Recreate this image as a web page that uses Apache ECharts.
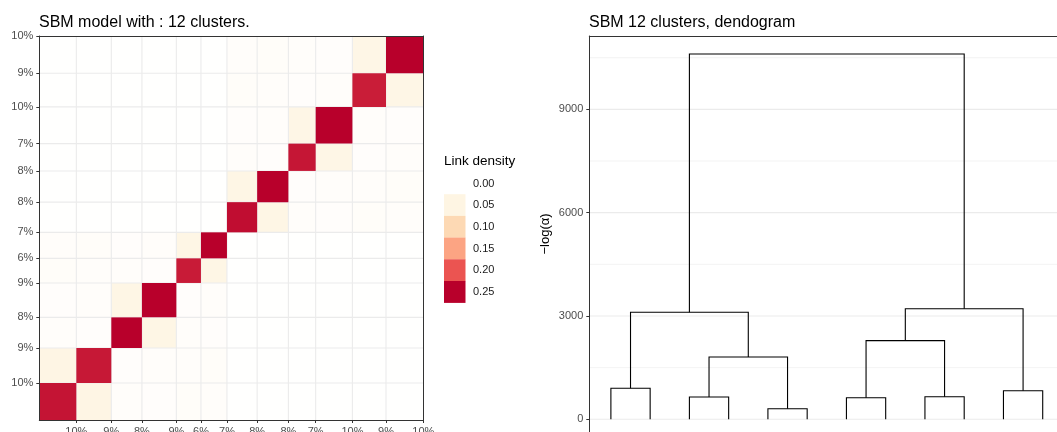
<!DOCTYPE html>
<html><head><meta charset="utf-8">
<script src="https://cdn.jsdelivr.net/npm/echarts@6.0.0/dist/echarts.min.js"></script>
<style>html,body{margin:0;padding:0;background:#fff}#c{width:1057px;height:432px}</style>
</head><body><div id="c"></div>
<script>
// ---------- data ----------
const clusterShares = [0.0964, 0.0911, 0.0797, 0.0896, 0.0641, 0.0677, 0.0786, 0.0813, 0.0711, 0.0956, 0.0875, 0.0971];
const shareLabels = ['10%', '9%', '8%', '9%', '6%', '7%', '8%', '8%', '7%', '10%', '9%', '10%'];
// row = cluster on y (1 at bottom), column = cluster on x (1 at left)
const linkDensity = [
  [0.238, 0.048, 0.009, 0.008, 0.010, 0.009, 0.001, 0.001, 0.001, 0.001, 0.001, 0.001],
  [0.048, 0.236, 0.008, 0.009, 0.009, 0.010, 0.001, 0.001, 0.001, 0.001, 0.001, 0.001],
  [0.009, 0.008, 0.252, 0.046, 0.009, 0.008, 0.001, 0.001, 0.001, 0.001, 0.001, 0.001],
  [0.008, 0.009, 0.046, 0.252, 0.008, 0.009, 0.001, 0.001, 0.001, 0.001, 0.001, 0.001],
  [0.010, 0.009, 0.009, 0.008, 0.234, 0.047, 0.001, 0.001, 0.001, 0.001, 0.001, 0.001],
  [0.009, 0.010, 0.008, 0.009, 0.047, 0.252, 0.001, 0.001, 0.001, 0.001, 0.001, 0.001],
  [0.001, 0.001, 0.001, 0.001, 0.001, 0.001, 0.242, 0.046, 0.009, 0.008, 0.010, 0.009],
  [0.001, 0.001, 0.001, 0.001, 0.001, 0.001, 0.046, 0.254, 0.008, 0.009, 0.009, 0.010],
  [0.001, 0.001, 0.001, 0.001, 0.001, 0.001, 0.009, 0.008, 0.237, 0.045, 0.008, 0.009],
  [0.001, 0.001, 0.001, 0.001, 0.001, 0.001, 0.008, 0.009, 0.045, 0.252, 0.009, 0.008],
  [0.001, 0.001, 0.001, 0.001, 0.001, 0.001, 0.010, 0.009, 0.008, 0.009, 0.233, 0.044],
  [0.001, 0.001, 0.001, 0.001, 0.001, 0.001, 0.009, 0.010, 0.009, 0.008, 0.044, 0.254]
];
const legendBreaks = [0.00, 0.05, 0.10, 0.15, 0.20, 0.25];
const legendColors = ['#FFFFFF', '#FEF5E3', '#FDD9B4', '#FCA483', '#EB5451', '#B8002B'];

// dendrogram (hclust-style merges: negative = leaf, positive = earlier merge)
const mergeLeft   = [-1, -3, -5, -7, -9, -11, 2, 1, 4, 9, 8];
const mergeRight  = [-2, -4, -6, -8, -10, -12, 3, 7, 5, 6, 10];
const mergeHeight = [900, 647, 308, 627, 656, 830, 1809, 3107, 2283, 3212, 10609];
const dendroMajor = [0, 3000, 6000, 9000];
const dendroMinor = [1500, 4500, 7500, 10500];

// ---------- derived ----------
const FONT = 'Liberation Sans, Arial, Helvetica, sans-serif';
const bounds = [0];
clusterShares.forEach(s => bounds.push(bounds[bounds.length - 1] + s));
const total = bounds[bounds.length - 1];
const tickVals = bounds.slice(1);
const labelFor = v => {
  let k = 0, best = Infinity;
  tickVals.forEach((t, i) => { const d = Math.abs(t - v); if (d < best) { best = d; k = i; } });
  return shareLabels[k];
};
const lightCells = [], darkCells = [];
for (let r = 0; r < 12; r++) for (let c = 0; c < 12; c++) {
  const v = linkDensity[r][c];
  const item = [bounds[c], bounds[c + 1], bounds[r], bounds[r + 1], v];
  (v >= 0.1 ? darkCells : lightCells).push(item);
}
const interior = bounds.slice(1, -1).map(b => [b, b]);

const nodeX = [], nodeH = [];
const posOf = id => id < 0 ? [-id, 0] : [nodeX[id - 1], nodeH[id - 1]];
const segs = [];
mergeLeft.forEach((l, i) => {
  const a = posOf(l), b = posOf(mergeRight[i]);
  nodeX.push((a[0] + b[0]) / 2); nodeH.push(mergeHeight[i]);
  segs.push([a[0], a[1], b[0], b[1], mergeHeight[i]]);
});
const dendroGrid = dendroMajor.map(v => [1, v, 1]).concat(dendroMinor.map(v => [1, v, 0]));

const cellRender = (params, api) => {
  const p0 = api.coord([api.value(0), api.value(3)]);
  const p1 = api.coord([api.value(1), api.value(2)]);
  return { type: 'rect', shape: { x: p0[0], y: p0[1], width: p1[0] - p0[0], height: p1[1] - p0[1] },
    style: { fill: api.visual('color') } };
};

// panel of the dendrogram runs past the picture's right and bottom edges
const DX_MIN = 0.45, DX_MAX = 12.364;   // visible part of the 0.45..12.55 range
const DY_MIN = -369, DY_MAX = 11130;    // visible part of the -530..11130 range

const chart = echarts.init(document.getElementById('c'), null, { renderer: 'canvas' });
const borderAxis = (pos, grid, extra) => Object.assign({
  gridIndex: grid, type: 'value', position: pos, z: 10,
  axisLine: { show: true, onZero: false, lineStyle: { color: '#333333', width: 1 } },
  axisTick: { show: false }, axisLabel: { show: false }, splitLine: { show: false }
}, extra || {});

const graphics = [{
  type: 'text', left: 444, top: 154.5,
  style: { text: 'Link density', font: '13.5px ' + FONT, fill: '#000' }
}];
legendBreaks.forEach((b, i) => {
  graphics.push({ type: 'rect', left: 444, top: 172.5 + i * 21.7,
    shape: { width: 21.5, height: 21.9 }, style: { fill: legendColors[i] } });
  graphics.push({ type: 'text', left: 473, top: 172.5 + i * 21.7 + 5.5,
    style: { text: b.toFixed(2), font: '11px ' + FONT, fill: '#1a1a1a' } });
});

chart.setOption({
  animation: false,
  backgroundColor: '#fff',
  title: [
    { text: 'SBM model with : 12 clusters.', left: 39, top: 14.5, padding: 0,
      textStyle: { fontFamily: FONT, fontSize: 16, fontWeight: 'normal', color: '#000' } },
    { text: 'SBM 12 clusters, dendogram', left: 589, top: 14.5, padding: 0,
      textStyle: { fontFamily: FONT, fontSize: 16, fontWeight: 'normal', color: '#000' } }
  ],
  grid: [
    { left: 39.3, top: 36, width: 384, height: 384, outerBoundsMode: 'none', containLabel: false },
    { left: 589.3, top: 36, right: 0, bottom: 0, outerBoundsMode: 'none', containLabel: false }
  ],
  visualMap: [{
    type: 'continuous', show: false, min: 0, max: 0.25, dimension: 4,
    seriesIndex: [0, 2], inRange: { color: legendColors }
  }],
  xAxis: [
    borderAxis('bottom', 0, { min: 0, max: total,
      axisTick: { show: true, customValues: tickVals, length: 3, lineStyle: { color: '#333333' } },
      axisLabel: { show: true, customValues: tickVals, formatter: labelFor, margin: 6,
        color: '#4D4D4D', fontSize: 11, fontFamily: FONT } }),
    borderAxis('top', 0, { min: 0, max: total }),
    borderAxis('bottom', 1, { min: DX_MIN, max: DX_MAX, axisLine: { show: false } }),
    borderAxis('top', 1, { min: DX_MIN, max: DX_MAX })
  ],
  yAxis: [
    borderAxis('left', 0, { min: 0, max: total,
      axisTick: { show: true, customValues: tickVals, length: 3, lineStyle: { color: '#333333' } },
      axisLabel: { show: true, customValues: tickVals, formatter: labelFor, margin: 6,
        color: '#4D4D4D', fontSize: 11, fontFamily: FONT } }),
    borderAxis('right', 0, { min: 0, max: total }),
    borderAxis('left', 1, { min: DY_MIN, max: DY_MAX,
      name: '\u2212log(\u03b1)', nameLocation: 'middle', nameGap: 37, nameRotate: 90,
      nameTextStyle: { fontFamily: FONT, fontSize: 13, color: '#000' },
      axisTick: { show: true, customValues: dendroMajor, length: 3, lineStyle: { color: '#333333' } },
      axisLabel: { show: true, customValues: dendroMajor, margin: 6, formatter: v => String(v),
        color: '#4D4D4D', fontSize: 11, fontFamily: FONT } })
  ],
  graphic: graphics,
  series: [
    { type: 'custom', name: 'cells-light', xAxisIndex: 0, yAxisIndex: 0, z: 1,
      encode: { x: [0, 1], y: [2, 3] }, data: lightCells, renderItem: cellRender, silent: true },
    { type: 'custom', name: 'heat-grid', xAxisIndex: 0, yAxisIndex: 0, z: 2,
      encode: { x: 0, y: 1 }, data: interior, silent: true,
      renderItem: (params, api) => {
        const b = api.value(0);
        const v1 = api.coord([b, 0]), v2 = api.coord([b, total]);
        const h1 = api.coord([0, b]), h2 = api.coord([total, b]);
        const st = { stroke: '#EBEBEB', lineWidth: 1.1 };
        return { type: 'group', children: [
          { type: 'line', shape: { x1: v1[0], y1: v1[1], x2: v2[0], y2: v2[1] }, style: st },
          { type: 'line', shape: { x1: h1[0], y1: h1[1], x2: h2[0], y2: h2[1] }, style: st }
        ] };
      } },
    { type: 'custom', name: 'cells-dark', xAxisIndex: 0, yAxisIndex: 0, z: 3,
      encode: { x: [0, 1], y: [2, 3] }, data: darkCells, renderItem: cellRender, silent: true },
    { type: 'custom', name: 'dendro-grid', xAxisIndex: 2, yAxisIndex: 2, z: 1,
      encode: { x: 0, y: 1 }, data: dendroGrid, silent: true,
      renderItem: (params, api) => {
        const p = api.coord([1, api.value(1)]);
        const cs = params.coordSys;
        const major = api.value(2) === 1;
        return { type: 'line', shape: { x1: cs.x, y1: p[1], x2: cs.x + cs.width, y2: p[1] },
          style: { stroke: major ? '#EBEBEB' : '#EEEEEE', lineWidth: major ? 1.1 : 0.7 } };
      } },
    { type: 'custom', name: 'dendrogram', xAxisIndex: 2, yAxisIndex: 2, z: 3,
      encode: { x: [0, 2], y: [1, 3, 4] }, data: segs, silent: true,
      renderItem: (params, api) => {
        const h = api.value(4);
        const pts = [
          api.coord([api.value(0), api.value(1)]), api.coord([api.value(0), h]),
          api.coord([api.value(2), h]), api.coord([api.value(2), api.value(3)])
        ];
        return { type: 'polyline', shape: { points: pts },
          style: { stroke: '#000', lineWidth: 1.1, fill: null } };
      } }
  ]
});
</script></body></html>
